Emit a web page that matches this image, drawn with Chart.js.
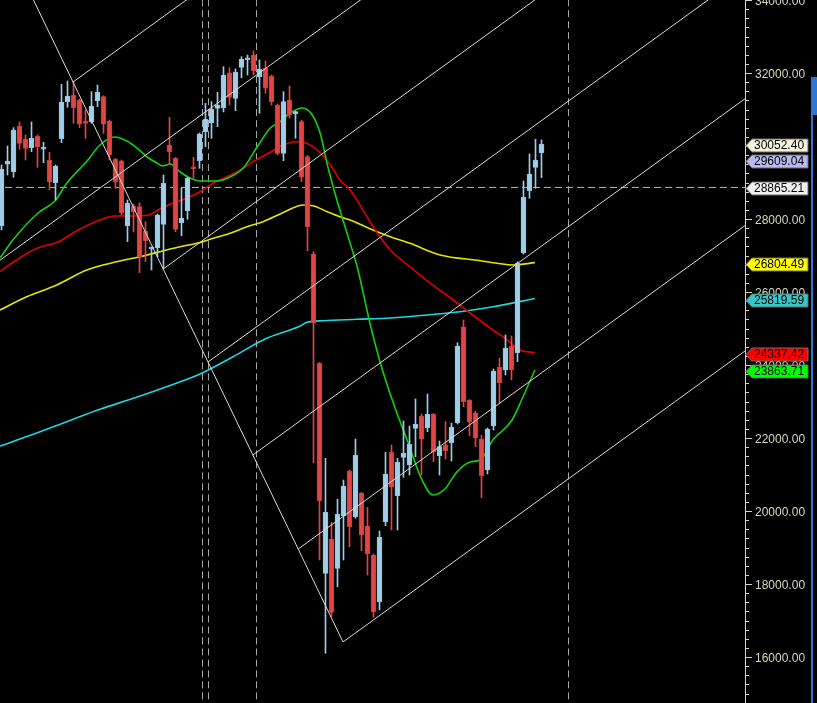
<!DOCTYPE html>
<html>
<head>
<meta charset="utf-8">
<script src="https://cdn.jsdelivr.net/npm/chart.js@4.4.1/dist/chart.umd.min.js"></script>
<style>
  html, body { margin: 0; padding: 0; background: #000; }
  #wrap { width: 817px; height: 703px; }
</style>
</head>
<body>
<div id="wrap"><canvas id="chart" width="817" height="703"></canvas></div>
<script>
// daily candles, oldest first
const opens = [27808,29499,29296,30548,30192,29953,30274,29910,29616,28995,
  30200,31214,31397,31260,30658,30666,31241,31351,30685,29636,
  29597,27817,28364,28337,27671,27178,27214,27855,30027,29663,
  27899,28228,29416,29597,30392,30638,31033,31049,32008,31307,
  32156,32364,32493,31899,32129,31918,31123,29800,31260,30877,
  30666,29707,27041,24047,18293,19233,18430,19863,21096,19844,
  20485,19589,18795,17515,19707,21608,20419,21471,21260,22266,
  22603,22282,22649,21515,21808,21872,22419,25049,23041,22693,
  21973,21123,22329,23945,23863,24521,24337,27077,28775,29416,29816];
const highs = [29480,30000,30501,30658,30301,30658,30301,30101,29827,29480,
  31690,31781,31753,31288,30986,31488,31671,31378,30712,29658,
  29616,28521,28411,28447,27926,27233,28137,29206,30786,29685,
  28841,29137,29690,30356,31170,31214,31471,32173,32145,32110,
  32447,32493,32603,32356,32329,31945,31151,31488,31644,30959,
  30712,29740,27104,24069,21444,19691,20321,20849,21123,21973,
  20512,20101,18822,19452,21608,21808,21444,22466,22329,23069,
  22658,23206,22671,21918,22447,22411,24611,25233,23055,22740,
  22082,22274,23890,24184,24822,24795,26830,29041,29781,30184,30164];
const lows = [27699,29206,29143,29910,29616,29844,29416,29543,28795,28521,
  30090,31060,30622,30501,30211,30622,31077,30348,29616,28841,
  28110,27378,27644,26529,26830,26603,26967,26649,29480,27652,
  27543,27992,29115,29389,29981,30211,30529,30932,31123,30967,
  31871,31945,31945,30896,31444,31123,29753,29597,30767,30211,
  29022,27132,21323,18658,16102,17104,17926,18658,19022,19800,
  18912,18247,17088,17288,19598,19480,19480,20924,20986,21488,
  20986,22173,21351,20986,21425,21370,22384,22858,22063,21762,
  20364,21014,22219,22951,23726,23589,24091,27041,28567,28841,29132];
const closes = [29362,29589,30438,30074,29937,30211,29981,29937,29022,29452,
  31206,31370,31049,30595,30622,31096,31471,30595,29753,29022,
  28173,28430,28200,26967,27406,27225,28110,28978,29844,27718,
  28019,29115,29378,30329,30732,31006,31123,31945,31334,32027,
  32375,32419,32063,32101,31581,31214,29800,31214,30849,30940,
  29143,27789,25143,20282,19964,17225,19910,20685,19570,21526,
  19343,18822,17241,19279,21014,20650,21334,21581,21828,22376,
  21965,22649,21625,21762,21652,22302,24521,22995,22447,22008,
  20967,22247,23836,23515,24458,23863,26786,28595,29233,29616,30052.40];

// moving averages: bar index -> value
const maGreenX = [-0.25,1.9,6.1,8.9,10.9,14.4,16.4,18.9,20.9,22.6,24.3,25.9,26.9,28.1,29.8,31.4,33.1,35.9,38.1,40.3,
  42.6,44.8,46.4,48.1,50.1,51.8,53.1,54.4,55.9,58.1,59.3,61.4,63.1,65.3,67.6,70.1,71.9,73.9,75.9,78.1,79.8,81.9,85.1,86.9,88.9];
const maGreenY = [26932,27425,28164,28493,28986,29616,30027,30247,30137,29945,29699,29534,29452,29507,29288,29123,29041,29041,29151,29397,
  29973,30493,30658,30904,31041,30849,30356,29425,28521,27342,26685,25151,24082,22959,21945,20849,20438,20603,21068,21342,21397,21945,22493,23123,23863.71];
const maRedX = [-0.25,2.5,5.9,9.5,12.8,16.4,18.9,21.9,24.3,26.4,28.6,30.9,33.1,35.3,37.6,39.8,41.9,44.3,46.9,49.3,
  50.9,52.6,54.8,56.4,58.1,62.3,64.8,68.1,71.4,75.3,78.1,81.9,84.3,86.4,88.9];
const maRedY = [26556,26877,27197,27378,27699,27973,28082,28082,28101,28274,28438,28575,28748,28986,29159,29343,29570,29780,30027,30118,
  30074,29890,29480,29068,28795,27699,27151,26693,26247,25781,25425,24959,24685,24411,24337.42];
const maYellowX = [-0.25,4.2,9.2,14.2,19.2,23.1,27.5,29.8,32.6,35.3,38.1,40.9,43.6,46.9,50.3,51.9,54.3,56.4,58.1,61.9,
  64.8,68.1,73.1,79.8,82.6,85.3,88.9];
const maYellowY = [25507,25871,26192,26603,26830,26967,27151,27241,27334,27471,27608,27789,27926,28173,28384,28365,28200,28063,27973,27699,
  27515,27334,27014,26858,26786,26740,26804.49];
const maCyanX = [-0.25,5.3,10.9,16.4,22.0,27.5,33.1,38.6,44.2,48.1,49.8,50.9,53.6,59.2,64.8,70.9,76.4,81.9,88.9];
const maCyanY = [21781,22101,22447,22786,23088,23405,23754,24227,24731,24959,25068,25170,25214,25252,25288,25370,25460,25597,25819.59];

// drawn trend lines: [x1, y1, x2, y2] in bar index / price
const forkLines = [
  [4.8, 34180, 56.92, 16411],
  [11.92, 31753, 125, 45209],
  [-0.25, 26870, 125, 41736],
  [26.95, 26630, 125, 38298],
  [34.42, 24082, 125, 34861],
  [41.9, 21534, 125, 31423],
  [49.45, 18959, 125, 27949],
  [56.92, 16411, 125, 24513]
];
const separators = [33.5, 34.5, 42.5, 94.5];
const lastLine = 28865.21;

// price axis labels
const priceTicks = [16000, 18000, 20000, 22000, 24000, 26000, 28000, 30000, 32000, 34000];

// price tags on the axis
const tagValues = [30052.40, 29609.04, 28865.21, 26804.49, 25819.59, 24337.42, 23863.71];
const tagColors = ['#f4f1dc', '#b9b9f2', '#f0f0f0', '#ffff00', '#36c8c8', '#ff0000', '#00ff00'];

const yMin = 14740, yMax = 34000;
const xMin = -0.25, xMax = 123.92;

const idx = opens.map((_, i) => i);
const up = idx.map(i => closes[i] >= opens[i]);
const bodyFill = up.map(u => u ? '#a8d3ea' : '#e24848');
const bodyEdge = up.map(u => u ? '#8dbfdc' : '#c23838');
const wickCol = up.map(u => u ? '#9ccbe6' : '#e04444');

const pairs = (xs, ys) => xs.map((x, k) => ({x: x, y: ys[k]}));
const lineDs = (data, color, width, order, dash) => ({
  type: 'line', data: data, borderColor: color, borderWidth: width,
  pointRadius: 0, fill: false, order: order, borderDash: dash || [],
  cubicInterpolationMode: 'monotone'
});

const datasets = [];
forkLines.forEach(l => datasets.push(lineDs([{x: l[0], y: l[1]}, {x: l[2], y: l[3]}], '#dcdcd4', 1, 0)));
datasets.push({
  type: 'bar', data: idx.map(i => ({x: i, y: [lows[i], highs[i]]})),
  backgroundColor: wickCol, barThickness: 1, grouped: false, order: 1
});
datasets.push({
  type: 'bar', data: idx.map(i => ({x: i, y: [opens[i], closes[i]]})),
  backgroundColor: bodyFill, borderColor: bodyEdge, borderWidth: 1, borderSkipped: false,
  barThickness: 5, minBarLength: 2, grouped: false, order: 1
});
datasets.push(lineDs(pairs(maGreenX, maGreenY), '#10d010', 1.6, 2));
datasets.push(lineDs(pairs(maRedX, maRedY), '#e00000', 1.6, 2));
datasets.push(lineDs(pairs(maYellowX, maYellowY), '#e6e600', 1.6, 2));
datasets.push(lineDs(pairs(maCyanX, maCyanY), '#1cd8e2', 1.6, 2));
separators.forEach(s => datasets.push(lineDs([{x: s, y: yMin - 500}, {x: s, y: yMax + 500}], '#a8a8a8', 1, 3, [7, 4])));
datasets.push(lineDs([{x: xMin - 1, y: lastLine}, {x: xMax + 1, y: lastLine}], '#b8b8b8', 1, 3, [7, 4]));

const axisColor = '#d6d6c2';

const axisExtras = {
  id: 'axisExtras',
  afterDraw(chart) {
    const ctx = chart.ctx;
    const ys = chart.scales.y;
    const left = chart.chartArea.right;
    ctx.save();
    // minor ticks
    ctx.strokeStyle = axisColor;
    ctx.lineWidth = 1;
    for (let v = 15000; v <= yMax; v += 250) {
      if (v % 2000 === 0) continue;
      const y = Math.round(ys.getPixelForValue(v)) + 0.5;
      ctx.beginPath();
      ctx.moveTo(left, y);
      ctx.lineTo(left + 4, y);
      ctx.stroke();
    }
    // value tags
    ctx.font = '12px "Liberation Sans", Arial, sans-serif';
    ctx.textBaseline = 'middle';
    ctx.textAlign = 'left';
    tagValues.forEach((v, k) => {
      const y = Math.round(ys.getPixelForValue(v)) + 1.5;
      const x0 = left + 1, x1 = left + 7, x2 = left + 63, h = 6.5;
      ctx.beginPath();
      ctx.moveTo(x0, y);
      ctx.lineTo(x1, y - h);
      ctx.lineTo(x2, y - h);
      ctx.lineTo(x2, y + h);
      ctx.lineTo(x1, y + h);
      ctx.closePath();
      ctx.fillStyle = tagColors[k];
      ctx.fill();
      ctx.strokeStyle = '#6a6a6a';
      ctx.stroke();
      ctx.fillStyle = '#000';
      ctx.fillText(v.toFixed(2), left + 9, y + 0.5);
    });
    // window scroll strip on the far right
    ctx.fillStyle = '#2a78d2';
    ctx.fillRect(811, 77, 2, 626);
    ctx.fillRect(811, 77, 6, 38);
    ctx.restore();
  }
};

Chart.defaults.font.family = '"Liberation Sans", Arial, sans-serif';
Chart.defaults.font.size = 12;

new Chart(document.getElementById('chart'), {
  type: 'bar',
  data: {datasets: datasets},
  options: {
    responsive: false,
    animation: false,
    devicePixelRatio: 1,
    events: [],
    layout: {padding: 0},
    plugins: {legend: {display: false}, tooltip: {enabled: false}},
    scales: {
      x: {type: 'linear', min: xMin, max: xMax, offset: false, display: false},
      y: {
        type: 'linear', position: 'right', min: yMin, max: yMax, beginAtZero: false,
        grid: {drawOnChartArea: false, drawTicks: true, tickLength: 7, color: axisColor, tickColor: axisColor},
        border: {display: true, color: axisColor},
        ticks: {color: axisColor, padding: 3, labelOffset: 2, autoSkip: false, callback: v => Number(v).toFixed(2)},
        afterBuildTicks: s => { s.ticks = priceTicks.map(v => ({value: v})); },
        afterFit: s => { s.width = 72; s.paddingTop = 0; s.paddingBottom = 0; }
      }
    }
  },
  plugins: [axisExtras]
});
</script>
</body>
</html>
